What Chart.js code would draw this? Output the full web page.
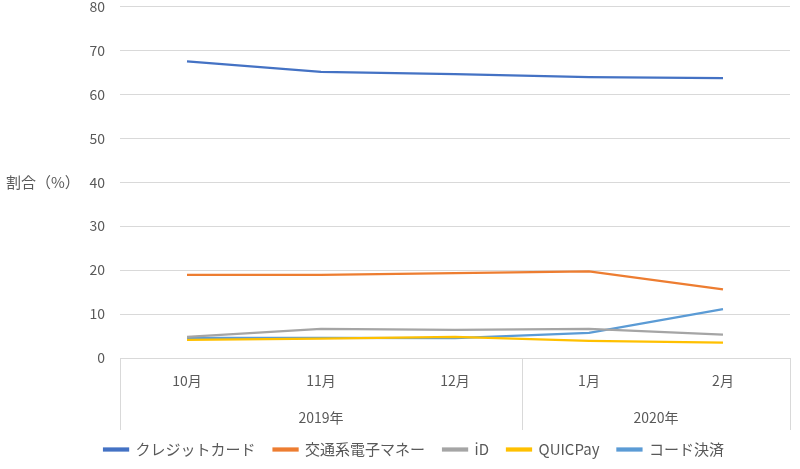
<!DOCTYPE html>
<html><head><meta charset="utf-8">
<script src="https://cdn.jsdelivr.net/npm/chart.js@4/dist/chart.umd.min.js"></script>
<style>html,body{margin:0;padding:0;background:#fff;overflow:hidden}#wrap{width:800px;height:469px;overflow:hidden;position:relative}#c{position:absolute;left:0;top:-17px}</style>
</head><body><div id="wrap"><canvas id="c" width="800" height="488"></canvas></div>
<script>
const months = ["10月","11月","12月","1月","2月"];
const years = [{label:"2019年", from:0, to:2},{label:"2020年", from:3, to:4}];
const yTicks = [0,10,20,30,40,50,60,70,80];
const yTitle = "割合（%）";
const seriesNames = ["クレジットカード","交通系電子マネー","iD","QUICPay","コード決済"];
const credit = [67.5, 65.1, 64.6, 63.9, 63.7];
const transit = [18.9, 18.9, 19.3, 19.7, 15.6];
const idPay = [4.8, 6.6, 6.4, 6.6, 5.3];
const quicPay = [4.1, 4.4, 4.8, 3.9, 3.5];
const codePay = [4.6, 4.6, 4.5, 5.7, 11.1];
const colors = ["#4472C4","#ED7D31","#A5A5A5","#FFC000","#5B9BD5"];
const FONT = "'Noto Sans CJK JP', 'Noto Sans', sans-serif";
const TXT = "#595959";
const GRID = "#d9d9d9";

const dataSets = [credit, transit, idPay, quicPay, codePay].map((d,i)=>({
  label: seriesNames[i], data: d, borderColor: colors[i], backgroundColor: colors[i],
  borderWidth: 2.25, pointRadius: 0, tension: 0, fill: false
}));

const extra = {
  id: 'extra',
  afterUpdate(chart){
    const lg = chart.legend;
    if (lg) { lg.left += 19; lg.right += 19; }
  },
  afterDraw(chart){
    const ctx = chart.ctx, xs = chart.scales.x, ys = chart.scales.y;
    const n = months.length;
    const w = (xs.right - xs.left)/n;
    const y0 = ys.bottom;
    const yEnd = y0 + 72;
    ctx.save();
    ctx.strokeStyle = GRID; ctx.lineWidth = 1;
    const bounds = [0];
    years.forEach(g=>bounds.push(g.to+1));
    bounds.forEach(b=>{
      const x = Math.round(xs.left + b*w) + 0.5;
      ctx.beginPath(); ctx.moveTo(x, y0); ctx.lineTo(x, yEnd); ctx.stroke();
    });
    ctx.fillStyle = TXT; ctx.font = "14px " + FONT;
    ctx.textAlign = "center"; ctx.textBaseline = "middle";
    years.forEach(g=>{
      const cx = (xs.getPixelForValue(g.from) + xs.getPixelForValue(g.to))/2;
      ctx.fillText(g.label, cx, y0 + 60);
    });
    ctx.font = "15px " + FONT;
    ctx.textAlign = "left";
    ctx.fillText(yTitle, 6, ys.getPixelForValue(40));
    ctx.restore();
  }
};

new Chart(document.getElementById('c'), {
  type: 'line',
  data: { labels: months, datasets: dataSets },
  options: {
    responsive: false, animation: false,
    layout: { padding: { top: 0, right: 10, bottom: 4, left: 0 } },
    plugins: {
      legend: { position: 'bottom', labels: { color: TXT, font: { size: 15, family: FONT }, boxWidth: 24, boxHeight: 2, padding: 18 } },
      tooltip: { enabled: false }
    },
    scales: {
      x: {
        offset: true,
        grid: { display: false, drawTicks: false },
        border: { display: true, color: GRID },
        ticks: { color: TXT, font: { size: 14, family: FONT }, padding: 14, maxRotation: 0 },
        afterFit(s){ s.height = 66; }
      },
      y: {
        min: 0, max: 80,
        afterBuildTicks(s){ s.ticks = yTicks.map(v=>({value:v})); },
        grid: { color: GRID, drawTicks: false },
        border: { display: false },
        ticks: { color: TXT, font: { size: 14, family: FONT }, padding: 15 },
        afterFit(s){ s.width = 120; }
      }
    }
  },
  plugins: [extra]
});
</script></body></html>
